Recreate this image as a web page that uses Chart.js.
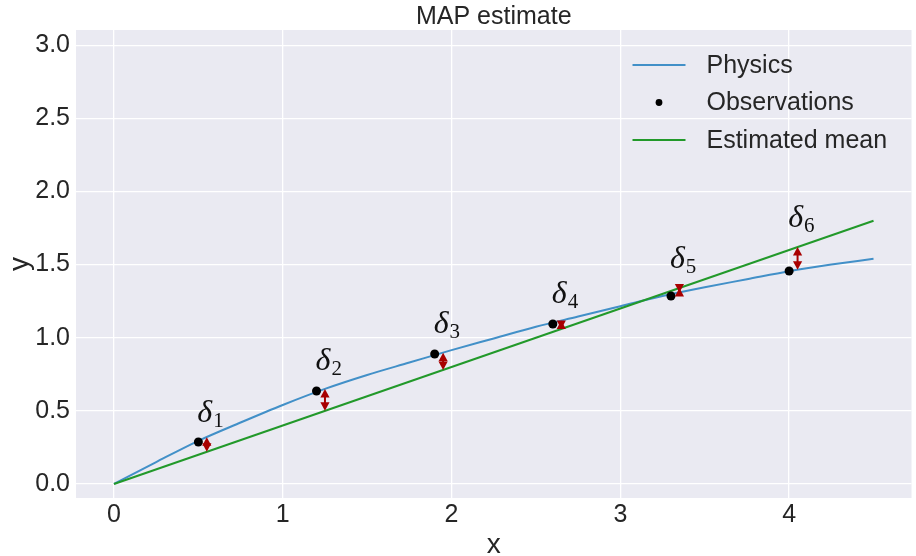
<!DOCTYPE html>
<html>
<head>
  <title>MAP estimate</title>
  <script src="https://cdn.jsdelivr.net/npm/chart.js"></script>
  <style>
    body {
      margin: 0;
      background: #fff;
    }
    #chart-wrapper {
      width: 916px;
      height: 556px;
    }
  </style>
</head>
<body>
<div id="chart-wrapper">
  <canvas id="chart" width="916" height="556"></canvas>
</div>

<script>
  // values
  const physicsX = [0, 0.25, 0.5, 0.75, 1.0, 1.25, 1.5, 1.75, 2.0, 2.25, 2.5, 2.75, 3.0, 3.25, 3.5, 3.75, 4.0, 4.25, 4.5];
  const physicsY = [0, 0.15, 0.295, 0.42, 0.54, 0.65, 0.745, 0.83, 0.915, 0.995, 1.075, 1.145, 1.215, 1.285, 1.345, 1.40, 1.455, 1.50, 1.54];
  const obsX = [0.5, 1.2, 1.9, 2.6, 3.3, 4.0];
  const obsY = [0.287, 0.636, 0.889, 1.094, 1.285, 1.456];
  const meanX = [0, 4.5];
  const meanY = [0, 1.8];
  const deltaSubs = ['1', '2', '3', '4', '5', '6'];
  const xTicks = [0, 1, 2, 3, 4];
  const yTicks = [0, 0.5, 1.0, 1.5, 2.0, 2.5, 3.0];

  const TEXT = '#262626';
  const SANS = '"Liberation Sans", Arial, sans-serif';
  const SERIF = '"Liberation Serif", "DejaVu Serif", serif';
  const BLUE = '#4290c8';
  const GREEN = '#22992a';
  const RED = '#a80000';

  function pts(xs, ys) {
    return xs.map((x, i) => ({ x: x, y: ys[i] }));
  }

  function lookup(xs, ys, x) {
    for (let i = 1; i < xs.length; i++) {
      if (x <= xs[i]) {
        const t = (x - xs[i - 1]) / (xs[i] - xs[i - 1]);
        return ys[i - 1] + t * (ys[i] - ys[i - 1]);
      }
    }
    return ys[ys.length - 1];
  }

  const plotBg = {
    id: 'plotBg',
    beforeDraw(chart) {
      const { ctx, chartArea: a } = chart;
      ctx.save();
      ctx.fillStyle = '#eaeaf2';
      ctx.fillRect(a.left, a.top, a.right - a.left, a.bottom - a.top);
      ctx.restore();
    }
  };

  function arrowHead(ctx, x, tipY, dir) {
    // dir = -1 points up, +1 points down
    const len = 8.5, half = 4.6;
    ctx.beginPath();
    ctx.moveTo(x, tipY);
    ctx.lineTo(x - half, tipY - dir * len);
    ctx.lineTo(x + half, tipY - dir * len);
    ctx.closePath();
    ctx.fill();
  }

  const extras = {
    id: 'extras',
    afterDatasetsDraw(chart) {
      const { ctx, chartArea: a } = chart;
      const sx = chart.scales.x, sy = chart.scales.y;
      ctx.save();

      // residual arrows and delta labels
      obsX.forEach((ox, i) => {
        const ax = ox + 0.05;
        const yp = lookup(physicsX, physicsY, ax);
        const ym = lookup(meanX, meanY, ax);
        const px = sx.getPixelForValue(ax);
        const top = sy.getPixelForValue(Math.max(yp, ym));
        const bot = sy.getPixelForValue(Math.min(yp, ym));
        ctx.strokeStyle = RED;
        ctx.fillStyle = RED;
        ctx.lineWidth = 2;
        ctx.beginPath();
        ctx.moveTo(px, top + 3);
        ctx.lineTo(px, bot - 3);
        ctx.stroke();
        arrowHead(ctx, px, top, -1);
        arrowHead(ctx, px, bot, 1);

        const base = Math.max(obsY[i], ym) + 0.14;
        const tx = sx.getPixelForValue(ox);
        const ty = sy.getPixelForValue(base);
        ctx.fillStyle = '#111';
        ctx.textBaseline = 'alphabetic';
        ctx.textAlign = 'left';
        ctx.font = 'italic 32px ' + SERIF;
        ctx.fillText('δ', tx - 1, ty);
        const w = ctx.measureText('δ').width;
        ctx.font = '21px ' + SERIF;
        ctx.fillText(deltaSubs[i], tx + w, ty + 5);
      });

      // title
      ctx.fillStyle = TEXT;
      ctx.font = '25px ' + SANS;
      ctx.textAlign = 'center';
      ctx.textBaseline = 'middle';
      ctx.fillText('MAP estimate', (a.left + a.right) / 2, 17);

      // legend
      const lx0 = a.right - 279, lx1 = a.right - 226, tx = a.right - 205;
      const rows = [a.top + 35, a.top + 72.5, a.top + 110];
      ctx.textAlign = 'left';
      chart.data.datasets.forEach((ds, i) => {
        const y = rows[i];
        if (ds.showLine) {
          ctx.strokeStyle = ds.borderColor;
          ctx.lineWidth = 2;
          ctx.beginPath();
          ctx.moveTo(lx0, y);
          ctx.lineTo(lx1, y);
          ctx.stroke();
        } else {
          ctx.fillStyle = ds.backgroundColor;
          ctx.beginPath();
          ctx.arc((lx0 + lx1) / 2, y, 3.4, 0, Math.PI * 2);
          ctx.fill();
        }
        ctx.fillStyle = TEXT;
        ctx.fillText(ds.label, tx, y + 1);
      });
      ctx.restore();
    }
  };

  const chart = new Chart(document.getElementById('chart').getContext('2d'), {
    type: 'scatter',
    data: {
      datasets: [{
        label: 'Physics',
        data: pts(physicsX, physicsY),
        showLine: true,
        borderColor: BLUE,
        borderWidth: 2,
        pointRadius: 0,
        cubicInterpolationMode: 'monotone',
        order: 2
      }, {
        label: 'Observations',
        data: pts(obsX, obsY),
        showLine: false,
        backgroundColor: '#000',
        borderColor: '#000',
        pointRadius: 4.5,
        borderWidth: 0,
        order: 0
      }, {
        label: 'Estimated mean',
        data: pts(meanX, meanY),
        showLine: true,
        borderColor: GREEN,
        borderWidth: 2,
        pointRadius: 0,
        order: 1
      }]
    },
    options: {
      responsive: false,
      animation: false,
      events: [],
      layout: { padding: { top: 30, right: 4, left: 0, bottom: 0 } },
      plugins: {
        legend: { display: false },
        tooltip: { enabled: false }
      },
      scales: {
        x: {
          type: 'linear',
          min: -0.225,
          max: 4.725,
          afterBuildTicks: s => { s.ticks = xTicks.map(v => ({ value: v })); },
          afterFit: s => { s.height = 58; },
          grid: { color: '#ffffff', lineWidth: 1.3, drawTicks: false },
          border: { display: false },
          ticks: {
            color: TEXT,
            padding: 2,
            maxRotation: 0,
            font: { family: SANS, size: 25 },
            callback: v => String(v)
          },
          title: {
            display: true,
            text: 'x',
            color: TEXT,
            font: { family: SANS, size: 28, lineHeight: 0.75 },
            padding: { top: 0, bottom: 0 }
          }
        },
        y: {
          type: 'linear',
          min: -0.096,
          max: 3.104,
          afterBuildTicks: s => { s.ticks = yTicks.map(v => ({ value: v })); },
          afterFit: s => { s.width = 76; },
          grid: { color: '#ffffff', lineWidth: 1.3, drawTicks: false },
          border: { display: false },
          ticks: {
            color: TEXT,
            padding: 6,
            font: { family: SANS, size: 25 },
            callback: v => v.toFixed(1)
          },
          title: {
            display: true,
            text: 'y',
            color: TEXT,
            font: { family: SANS, size: 28, lineHeight: 1 },
            padding: { top: 6, bottom: 0 }
          }
        }
      }
    },
    plugins: [plotBg, extras]
  });
</script>
</body>
</html>
